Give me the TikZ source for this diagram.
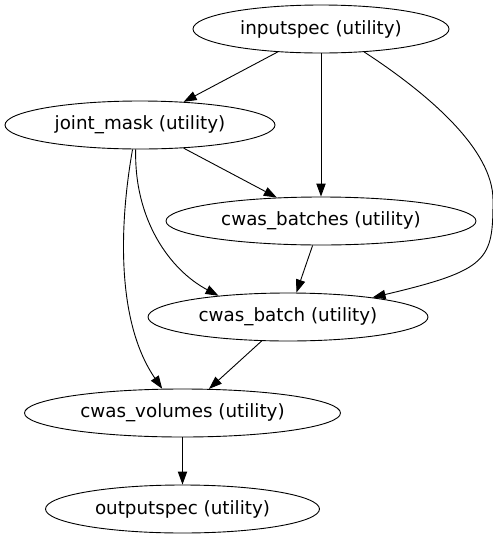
\documentclass[tikz,border=0pt]{standalone}
\usepackage{fontspec}
\setmainfont{DejaVu Sans}
\usetikzlibrary{shapes.geometric,arrows.meta}
\begin{document}
\begin{tikzpicture}[x=1pt,y=-1pt,
  nd/.style={ellipse,draw,line width=0.9pt,inner sep=0pt,minimum height=48pt,font=\fontsize{18.3}{21}\selectfont},
  edge/.style={line width=0.9pt,-{Triangle[length=13pt,width=9.3pt]}}]
\useasboundingbox (0,0) rectangle (493,539);
\node[nd,minimum width=256pt] (in) at (321,29) {inputspec (utility)};
\node[nd,minimum width=270pt] (jm) at (140,125) {joint\_mask (utility)};
\node[nd,minimum width=310pt] (cbs) at (321,221) {cwas\_batches (utility)};
\node[nd,minimum width=280pt] (cb) at (288,317) {cwas\_batch (utility)};
\node[nd,minimum width=316pt] (cv) at (182.5,413) {cwas\_volumes (utility)};
\node[nd,minimum width=274pt] (out) at (182.5,509) {outputspec (utility)};
\draw[edge] (in) -- (jm);
\draw[edge] (in) -- (cbs);
\draw[edge] (in.-28.7) .. controls (430,95) and (493,150) .. (493,200) .. controls (493,260) and (489,270) .. (cb.13.7);
\draw[edge] (jm) -- (cbs);
\draw[edge] (jm.-100) .. controls (134,220) and (170,270) .. (cb.163.6);
\draw[edge] (jm.-107) .. controls (120,220) and (115,320) .. (cv.130.5);
\draw[edge] (cbs) -- (cb);
\draw[edge] (cb) -- (cv);
\draw[edge] (cv) -- (out);
\end{tikzpicture}
\end{document}
